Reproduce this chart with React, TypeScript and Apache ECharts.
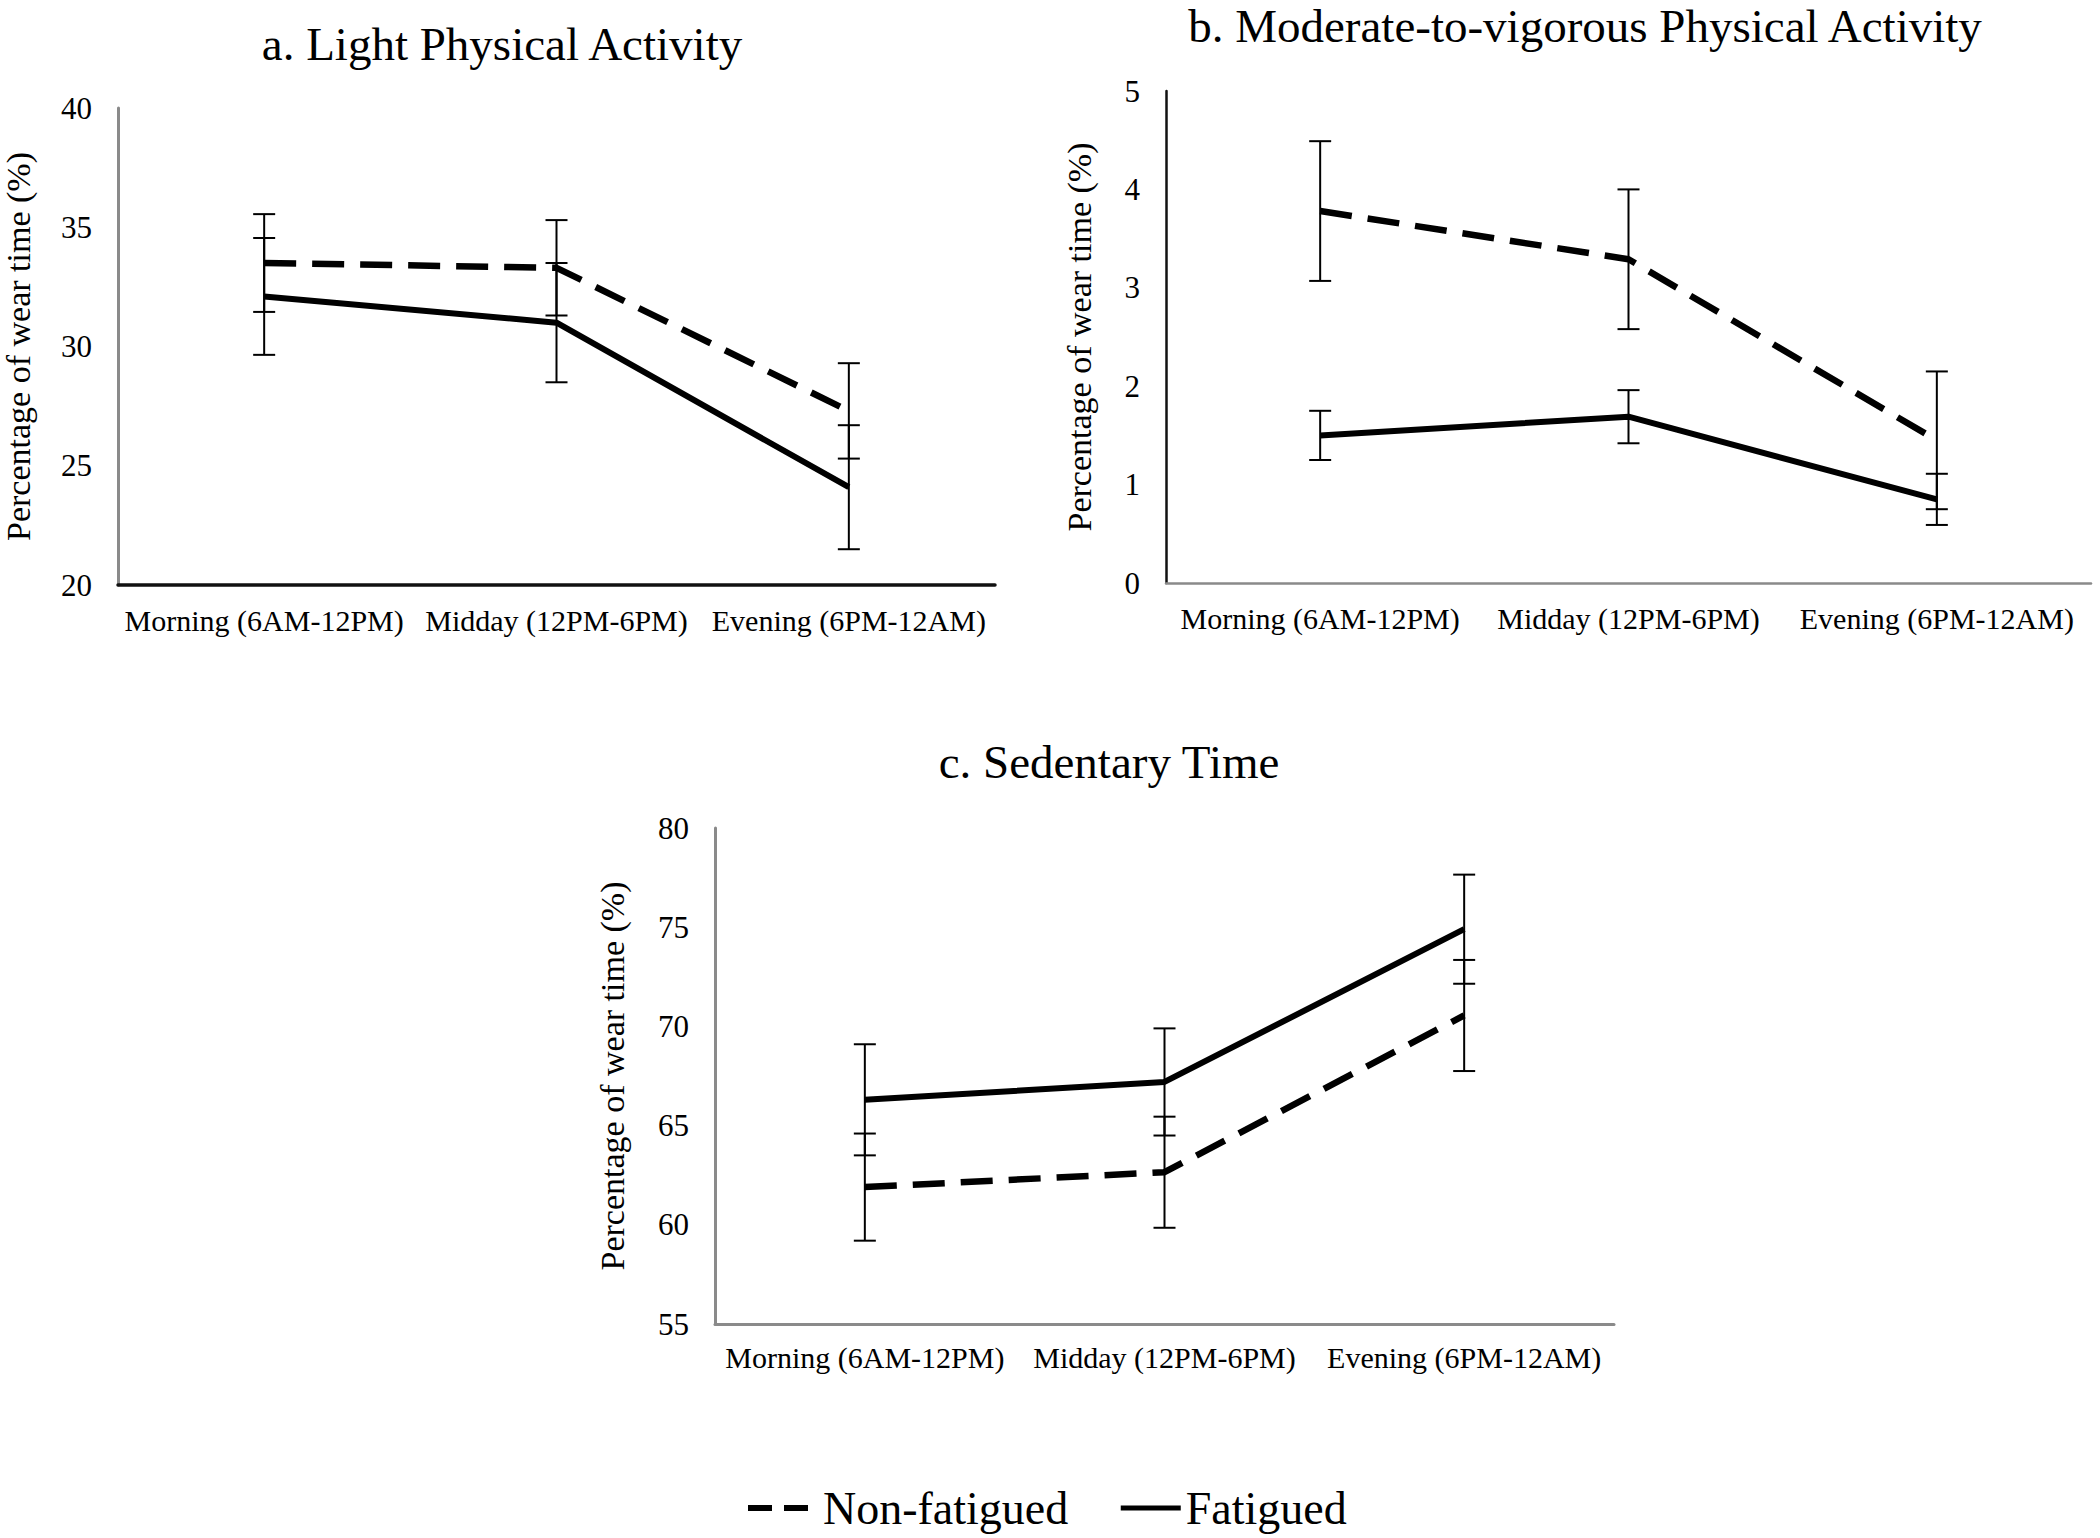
import React, { useEffect, useRef } from "react";
import * as echarts from "echarts";

const categories = ["Morning (6AM-12PM)", "Midday (12PM-6PM)", "Evening (6PM-12AM)"];

// a. Light Physical Activity
const lightNonFatigued = [33.5, 33.3, 27.3];
const lightNonFatiguedErr = [2.05, 2.0, 2.0];
const lightFatigued = [32.1, 31.0, 24.1];
const lightFatiguedErr = [2.45, 2.5, 2.6];

// b. Moderate-to-vigorous Physical Activity
const mvpaNonFatigued = [3.78, 3.29, 1.45];
const mvpaNonFatiguedErr = [0.71, 0.71, 0.7];
const mvpaFatigued = [1.5, 1.69, 0.85];
const mvpaFatiguedErr = [0.25, 0.27, 0.26];

// c. Sedentary Time
const sedNonFatigued = [61.9, 62.65, 70.55];
const sedNonFatiguedErr = [2.7, 2.8, 2.8];
const sedFatigued = [66.3, 67.2, 74.9];
const sedFatiguedErr = [2.8, 2.7, 2.75];

const titles = [
  "a. Light Physical Activity",
  "b. Moderate-to-vigorous Physical Activity",
  "c. Sedentary Time",
];
const yAxisName = "Percentage of wear time (%)";
const seriesNames = ["Non-fatigued", "Fatigued"];

const FONT = "Liberation Serif";

function errData(vals: number[], errs: number[]) {
  return vals.map((v, i) => [i, v - errs[i], v + errs[i]]);
}

const renderErr = (params: any, api: any) => {
  const x = api.value(0);
  const lo = api.coord([x, api.value(1)]);
  const hi = api.coord([x, api.value(2)]);
  const w = 11;
  const st = { stroke: "#000", lineWidth: 2 };
  return {
    type: "group",
    children: [
      { type: "line", shape: { x1: lo[0], y1: lo[1], x2: hi[0], y2: hi[1] }, style: st },
      { type: "line", shape: { x1: lo[0] - w, y1: lo[1], x2: lo[0] + w, y2: lo[1] }, style: st },
      { type: "line", shape: { x1: hi[0] - w, y1: hi[1], x2: hi[0] + w, y2: hi[1] }, style: st },
    ],
  };
};

export default function App() {
  const ref = useRef<HTMLDivElement>(null);
  useEffect(() => {
    document.body.style.margin = "0";
    const chart = echarts.init(ref.current!, null, { renderer: "svg" });

    const grids = [
      { left: 114, top: 108, width: 881, height: 477 },
      { left: 1166, top: 91, width: 925, height: 492 },
      { left: 715, top: 828, width: 899, height: 496 },
    ];
    const yRanges = [
      { min: 20, max: 40, interval: 5 },
      { min: 0, max: 5, interval: 1 },
      { min: 55, max: 80, interval: 5 },
    ];
    const yLine = [
      { color: "#8a8a8a", width: 3 },
      { color: "#111", width: 2.5 },
      { color: "#8a8a8a", width: 3 },
    ];
    const xLine = [
      { color: "#111", width: 3.5 },
      { color: "#8a8a8a", width: 2.5 },
      { color: "#8a8a8a", width: 3 },
    ];
    const nameGaps = [83, 70, 86];
    const xMargins = [20, 20, 18];

    const xAxis = grids.map((_, i) => ({
      type: "category",
      gridIndex: i,
      data: categories,
      boundaryGap: true,
      axisLine: { show: true, lineStyle: xLine[i] },
      axisTick: { show: false },
      axisLabel: { color: "#000", fontFamily: FONT, fontSize: 30, margin: xMargins[i], interval: 0 },
      splitLine: { show: false },
    }));
    const yAxis = grids.map((_, i) => ({
      type: "value",
      gridIndex: i,
      min: yRanges[i].min,
      max: yRanges[i].max,
      interval: yRanges[i].interval,
      name: yAxisName,
      nameLocation: "middle",
      nameGap: nameGaps[i],
      nameRotate: 90,
      nameTextStyle: { color: "#000", fontFamily: FONT, fontSize: 34 },
      axisLine: { show: true, lineStyle: yLine[i] },
      axisTick: { show: false },
      axisLabel: { color: "#000", fontFamily: FONT, fontSize: 31, margin: 26 },
      splitLine: { show: false },
    }));

    const panels = [
      [lightNonFatigued, lightNonFatiguedErr, lightFatigued, lightFatiguedErr],
      [mvpaNonFatigued, mvpaNonFatiguedErr, mvpaFatigued, mvpaFatiguedErr],
      [sedNonFatigued, sedNonFatiguedErr, sedFatigued, sedFatiguedErr],
    ];

    const series: any[] = [];
    panels.forEach((p, i) => {
      series.push({
        name: seriesNames[0],
        type: "line",
        xAxisIndex: i,
        yAxisIndex: i,
        data: p[0],
        symbol: "none",
        lineStyle: { color: "#000", width: 6.5, type: [32, 16] },
        itemStyle: { color: "#000" },
        z: 3,
      });
      series.push({
        name: seriesNames[1],
        type: "line",
        xAxisIndex: i,
        yAxisIndex: i,
        data: p[2],
        symbol: "none",
        lineStyle: { color: "#000", width: 6, type: "solid" },
        itemStyle: { color: "#000" },
        z: 3,
      });
      series.push({
        type: "custom",
        xAxisIndex: i,
        yAxisIndex: i,
        data: errData(p[0], p[1]),
        encode: { x: 0, y: [1, 2] },
        renderItem: renderErr,
        z: 2,
      });
      series.push({
        type: "custom",
        xAxisIndex: i,
        yAxisIndex: i,
        data: errData(p[2], p[3]),
        encode: { x: 0, y: [1, 2] },
        renderItem: renderErr,
        z: 2,
      });
    });

    const titleTops = [20, 2, 738];
    const titleCenters = [502, 1585, 1109];

    chart.setOption({
      animation: false,
      backgroundColor: "#fff",
      title: titles.map((t, i) => ({
        text: t,
        left: titleCenters[i],
        top: titleTops[i],
        textAlign: "center",
        padding: 0,
        textStyle: { color: "#000", fontFamily: FONT, fontSize: 47, fontWeight: "normal" },
      })),
      legend: {
        data: [
          {
            name: seriesNames[0],
            lineStyle: { type: [24, 12], width: 6 },
            textStyle: { padding: [0, 0, 0, 10] },
          },
          {
            name: seriesNames[1],
            lineStyle: { width: 5 },
            textStyle: { padding: [0, 0, 0, 0] },
          },
        ],
        left: 745,
        top: 1485,
        padding: 0,
        itemWidth: 60,
        itemHeight: 40,
        itemGap: 50,
        itemStyle: { color: "rgba(0,0,0,0)", borderWidth: 0, opacity: 0 },
        textStyle: { color: "#000", fontFamily: FONT, fontSize: 46 },
      },
      grid: grids,
      xAxis,
      yAxis,
      series,
    });
    return () => chart.dispose();
  }, []);
  return <div ref={ref} style={{ width: 2100, height: 1538 }} />;
}
